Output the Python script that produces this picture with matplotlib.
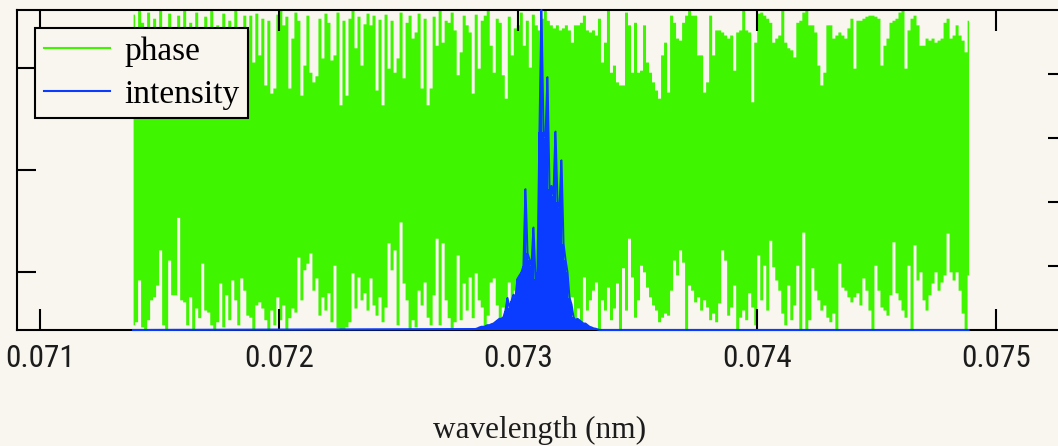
import numpy as np
import matplotlib
matplotlib.use('Agg')
import matplotlib.pyplot as plt
from matplotlib.lines import Line2D
from matplotlib import font_manager

# phase (rad): upper / lower edge of the trace in each plotted column
phase_top = [
    3.06, 2.55, 3.14, 2.90, 2.26, 3.10, 2.65, 2.98, 1.96, 3.14, 2.79, 2.36, 3.08, 2.71, 1.77, 3.04, 2.55, 3.14, 2.16, 2.90,
    2.45, 3.10, 2.59, 1.87, 3.02, 2.75, 3.14, 2.26, 2.85, 2.06, 3.08, 2.55, 2.94, 1.67, 3.14, 2.65, 2.32, 3.04, 2.75, 3.04,
    2.12, 3.08, 2.26, 2.98, 1.67, 2.94, 1.51, 1.61, 3.06, 3.14, 2.85, 3.02, 1.61, 2.59, 3.10, 2.94, 1.47, 2.06, 3.04, 1.92,
    1.73, 1.85, 2.98, 2.20, 3.08, 2.90, 2.16, 2.26, 3.10, 1.28, 2.94, 1.47, 2.98, 3.14, 2.40, 3.02, 2.06, 2.87, 3.08, 2.85,
    3.04, 1.57, 2.96, 1.28, 3.06, 2.00, 2.94, 1.92, 2.20, 3.10, 1.81, 2.90, 3.04, 2.59, 2.71, 3.08, 1.61, 2.98, 1.28, 1.61,
    3.02, 2.45, 3.14, 2.51, 2.94, 2.90, 3.10, 2.75, 1.87, 2.32, 3.04, 2.85, 2.71, 1.51, 3.06, 2.00, 2.94, 3.04, 3.14, 2.45,
    1.92, 2.98, 2.90, 1.87, 1.41, 3.02, 2.26, 2.79, 2.85, 3.10, 2.45, 2.94, 2.02, 3.06, 2.85, 2.75, 2.98, 3.14, 2.94, 2.85,
    2.79, 2.85, 2.75, 2.79, 2.85, 2.75, 2.51, 2.85, 2.85, 2.90, 3.04, 2.75, 2.71, 2.75, 2.65, 2.98, 2.12, 2.51, 3.14, 1.92,
    2.06, 1.73, 1.67, 1.67, 3.10, 2.85, 1.92, 2.90, 1.92, 1.96, 2.85, 2.12, 1.92, 1.73, 1.57, 1.41, 2.26, 2.51, 1.53, 3.04,
    2.90, 2.59, 2.55, 2.90, 3.04, 3.14, 3.04, 3.04, 2.26, 2.26, 1.53, 1.73, 3.04, 2.26, 2.75, 2.75, 2.71, 2.65, 2.59, 2.65,
    1.96, 2.71, 2.75, 3.14, 2.75, 2.71, 1.34, 2.51, 3.08, 3.10, 3.04, 2.98, 2.90, 2.51, 2.59, 2.65, 3.14, 2.51, 2.40, 2.36,
    2.22, 2.90, 2.94, 3.10, 3.14, 2.85, 2.85, 2.71, 2.06, 1.67, 1.92, 2.85, 2.85, 2.59, 2.65, 2.71, 2.65, 2.59, 2.79, 2.98,
    2.00, 2.94, 2.94, 2.98, 3.02, 3.04, 3.04, 3.02, 2.98, 2.06, 2.45, 2.59, 2.90, 2.94, 2.98, 3.10, 3.14, 2.00, 2.75, 2.98,
    3.04, 2.85, 2.45, 2.45, 2.59, 2.55, 2.59, 2.51, 2.55, 2.59, 2.90, 2.98, 2.59, 2.65, 2.85, 2.65, 2.55, 2.32, 2.94]
phase_bottom = [
    -3.04, -2.98, -2.16, -3.08, -3.14, -2.94, -2.55, -2.49, -2.26, -1.57, -3.04, -3.14, -1.77, -2.45, -2.45, -0.93, -2.55, -2.59, -3.04, -2.49,
    -3.14, -2.71, -2.90, -1.83, -2.75, -2.79, -3.04, -3.14, -2.98, -2.22, -3.08, -2.45, -2.94, -2.16, -2.55, -3.04, -2.12, -2.36, -2.85, -2.89,
    -3.14, -2.65, -2.59, -2.71, -2.94, -3.14, -2.75, -3.04, -2.49, -2.94, -2.65, -3.14, -2.90, -2.71, -2.79, -1.71, -2.55, -1.96, -1.83, -1.63,
    -2.36, -2.12, -2.85, -2.49, -2.75, -2.41, -2.98, -1.87, -3.10, -3.14, -3.14, -3.08, -2.98, -2.02, -2.71, -2.10, -2.55, -2.41, -2.75, -2.12,
    -2.65, -2.85, -2.49, -2.98, -2.69, -1.43, -1.96, -1.57, -3.04, -1.02, -2.22, -2.55, -3.14, -2.94, -3.08, -2.36, -2.65, -2.20, -2.89, -3.04,
    -2.45, -1.34, -3.04, -1.43, -2.55, -2.90, -3.14, -2.98, -1.67, -2.94, -2.22, -2.75, -2.10, -2.90, -2.02, -2.55, -2.69, -3.04, -2.85, -2.20,
    -2.12, -2.65, -2.94, -2.69, -2.85, -2.20, -2.55, -2.36, -2.75, -2.12, -2.75, -2.55, -2.94, -2.36, -2.85, -2.65, -3.04, -2.55, -2.94, -2.85,
    -2.65, -2.98, -2.55, -2.90, -2.36, -3.04, -2.49, -2.94, -2.71, -3.04, -2.10, -2.75, -2.55, -2.36, -2.20, -3.14, -2.55, -2.75, -2.30, -2.94,
    -2.71, -2.22, -3.14, -1.92, -2.75, -1.34, -2.10, -2.89, -2.55, -1.87, -2.00, -2.30, -2.49, -2.65, -2.75, -2.98, -2.89, -2.81, -2.85, -2.36,
    -1.77, -2.06, -1.57, -1.81, -3.14, -2.26, -2.36, -2.59, -2.49, -2.75, -2.55, -2.69, -2.94, -2.81, -2.98, -2.61, -1.57, -1.77, -2.85, -2.69,
    -2.26, -3.14, -2.89, -2.75, -2.94, -2.41, -2.69, -3.04, -1.67, -2.55, -1.87, -2.75, -1.38, -1.90, -2.16, -2.36, -2.81, -3.04, -2.26, -2.94,
    -2.65, -1.87, -3.14, -1.22, -3.14, -2.94, -1.92, -2.36, -2.55, -2.75, -2.65, -2.89, -2.98, -2.81, -3.14, -1.83, -2.30, -2.36, -2.49, -2.59,
    -2.49, -2.41, -2.65, -2.12, -2.36, -2.75, -3.14, -1.87, -2.36, -2.69, -2.75, -2.85, -2.45, -1.41, -2.41, -2.55, -2.75, -2.89, -1.87, -3.14,
    -1.47, -2.16, -2.00, -2.55, -2.75, -2.45, -2.22, -2.00, -2.36, -2.20, -2.06, -1.24, -2.00, -2.16, -2.00, -2.36, -2.81, -3.14, -2.06]
phase_start, phase_end = 0.071388, 0.074885   # nm

# normalised intensity around the line (zero elsewhere)
intensity = [
    0.003, 0.005, 0.008, 0.01, 0.01, 0.012, 0.015, 0.015, 0.018, 0.02,
    0.025, 0.03, 0.035, 0.035, 0.04, 0.06, 0.10, 0.07, 0.09, 0.11,
    0.10, 0.16, 0.17, 0.18, 0.20, 0.44, 0.24, 0.22, 0.20, 0.32,
    0.16, 0.18, 0.62, 1.0, 0.62, 0.60, 0.79, 0.44, 0.45, 0.42,
    0.62, 0.40, 0.38, 0.53, 0.27, 0.22, 0.18, 0.10, 0.08, 0.04,
    0.03, 0.035, 0.03, 0.025, 0.02, 0.02, 0.015, 0.01, 0.008, 0.005,
    0.004, 0.002, 0.0]
int_start, int_end = 0.072821, 0.073340

xticks = [0.071, 0.072, 0.073, 0.074, 0.075]
xticklabels = ['0.071', '0.072', '0.073', '0.074', '0.075']

bg = '#f9f6ef'
green = '#3ff500'
blue = '#0a3cff'

n = min(len(phase_top), len(phase_bottom))
wl_phase = np.linspace(phase_start, phase_end, n)
wl_int = np.linspace(int_start, int_end, len(intensity))
x_line = np.concatenate([[phase_start], wl_int, [phase_end]])
y_line = np.concatenate([[0.0], intensity, [0.0]])

# narrow face for the tick labels if one is around
tick_font, tick_size = 'DejaVu Sans', 18
for name, size in [('Liberation Sans Narrow', 23), ('Roboto Condensed', 22.5)]:
    try:
        font_manager.findfont(name, fallback_to_default=False)
        tick_font, tick_size = name, size
        break
    except Exception:
        pass
serif = ['Liberation Serif', 'DejaVu Serif']

W, H = 1058, 446
fig = plt.figure(figsize=(W / 100, H / 100), dpi=100)
fig.patch.set_facecolor(bg)
ax = fig.add_axes([16.5 / W, (H - 330) / H, (1063 - 16.5) / W, 320 / H])
ax.set_facecolor(bg)

ax.fill_between(wl_phase, phase_bottom[:n], phase_top[:n], step='mid', color=green, lw=0)
ax.set_xlim(0.0709, 0.07528)
ax.set_ylim(-np.pi, np.pi)
ax.set_xticks(xticks)
ax.set_xticklabels(xticklabels, fontfamily=tick_font, fontsize=tick_size, color='#1c1c1c')
ax.set_yticks([-2, 0, 2])
ax.set_yticklabels([])
ax.tick_params(axis='x', direction='in', length=15, width=1.5, top=True, bottom=True, pad=10)
ax.tick_params(axis='y', direction='in', length=14, width=1.5, left=True, right=False)
for sp in ax.spines.values():
    sp.set_linewidth(1.5)
    sp.set_color('black')
ax.set_xlabel('wavelength (nm)', fontfamily=serif, fontsize=22.5, labelpad=31, color='#1c1c1c')

ax2 = ax.twinx()
ax2.set_ylim(0, 1)
ax2.fill_between(wl_int, 0, intensity, step='mid', color=blue, lw=0)
ax2.plot(x_line, y_line, color=blue, lw=1.5, clip_on=False)
ax2.set_yticks([0.2, 0.4, 0.6, 0.8])
ax2.set_yticklabels([])
ax2.tick_params(axis='y', direction='in', length=11, width=1.5, right=True, left=False)
for sp in ax2.spines.values():
    sp.set_visible(False)

handles = [Line2D([], [], color=green, lw=1.5), Line2D([], [], color=blue, lw=1.5)]
leg = ax2.legend(handles, ['phase', 'intensity'], loc='upper left',
                 bbox_to_anchor=(35 / W, 1 - 28 / H), bbox_transform=fig.transFigure,
                 borderaxespad=0, prop={'family': serif, 'size': 24},
                 handlelength=2.0, handletextpad=0.42, borderpad=0.26, labelspacing=0.36,
                 fancybox=False, edgecolor='black', facecolor=bg, framealpha=1)
leg.get_frame().set_linewidth(1.5)

fig.savefig('out.png', dpi=100, facecolor=bg)
